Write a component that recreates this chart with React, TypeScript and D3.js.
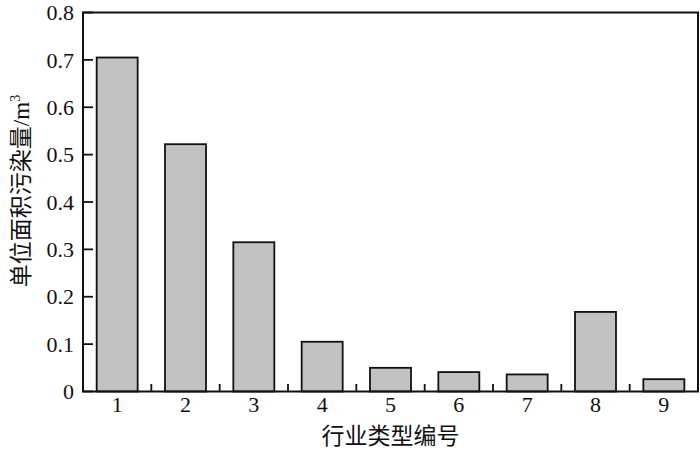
import React from "react";
import * as d3 from "d3";

const categories = ["1", "2", "3", "4", "5", "6", "7", "8", "9"];
const values = [0.705, 0.522, 0.315, 0.105, 0.05, 0.041, 0.036, 0.168, 0.026];
const yTicks = [0, 0.1, 0.2, 0.3, 0.4, 0.5, 0.6, 0.7, 0.8];
const yTickLabels = ["0", "0.1", "0.2", "0.3", "0.4", "0.5", "0.6", "0.7", "0.8"];
const xTitle = "行业类型编号";
const yTitle = "单位面积污染量";
const yTitleUnit = "/m";
const yTitleSup = "3";

const W = 700;
const H = 455;
const m = { left: 83, right: 2, top: 12.5, bottom: 63.5 };

export default function App() {
  const x = d3
    .scaleBand<string>()
    .domain(categories)
    .range([m.left, W - m.right])
    .paddingInner(0.4)
    .paddingOuter(0.2);
  const y = d3.scaleLinear().domain([0, 0.8]).range([H - m.bottom, m.top]);
  const step = x.step();
  const x0 = m.left;
  const x1 = W - m.right;
  const yb = y(0);
  const serif = '"Liberation Serif", "DejaVu Serif", serif';
  const cjk = '"Noto Sans CJK SC", sans-serif';

  return (
    <svg
      width={W}
      height={H}
      style={{ position: "absolute", left: 0, top: 0, background: "#fff" }}
    >
      {categories.map((c, i) => (
        <rect
          key={c}
          x={x(c)}
          y={y(values[i])}
          width={x.bandwidth()}
          height={yb - y(values[i])}
          fill="#c2c2c2"
          stroke="#111"
          strokeWidth={1.8}
        />
      ))}
      {yTicks.map((t, i) => (
        <g key={t}>
          <line x1={x0} x2={x0 + 10} y1={y(t)} y2={y(t)} stroke="#111" strokeWidth={1.8} />
          <text
            x={x0 - 9}
            y={y(t)}
            dy="0.35em"
            textAnchor="end"
            style={{ fontFamily: serif, fontSize: "22px" }}
            fill="#111"
          >
            {yTickLabels[i]}
          </text>
        </g>
      ))}
      {categories.slice(1).map((c, i) => (
        <line
          key={c}
          x1={x0 + step * (i + 1)}
          x2={x0 + step * (i + 1)}
          y1={yb}
          y2={yb - 7.5}
          stroke="#111"
          strokeWidth={1.8}
        />
      ))}
      {categories.map((c) => (
        <text
          key={c}
          x={(x(c) as number) + x.bandwidth() / 2}
          y={412}
          textAnchor="middle"
          style={{ fontFamily: serif, fontSize: "22px" }}
          fill="#111"
        >
          {c}
        </text>
      ))}
      <rect
        x={x0}
        y={m.top}
        width={x1 - x0}
        height={yb - m.top}
        fill="none"
        stroke="#111"
        strokeWidth={2}
      />
      <text
        x={(x0 + x1) / 2}
        y={444}
        textAnchor="middle"
        style={{ fontFamily: cjk, fontSize: "23px" }}
        fill="#111"
      >
        {xTitle}
      </text>
      <text
        transform={`translate(29, 191) rotate(-90)`}
        textAnchor="middle"
        style={{ fontFamily: cjk, fontSize: "23px" }}
        fill="#111"
      >
        {yTitle}
        <tspan style={{ fontFamily: serif, fontSize: "23px" }}>{yTitleUnit}</tspan>
        <tspan style={{ fontFamily: serif, fontSize: "14px" }} dy={-9}>
          {yTitleSup}
        </tspan>
      </text>
    </svg>
  );
}
